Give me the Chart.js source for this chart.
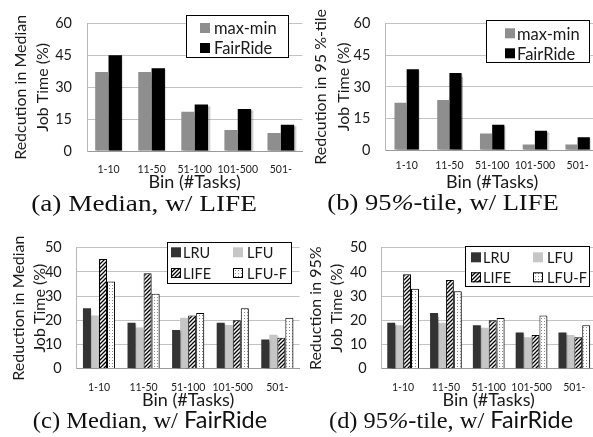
<!DOCTYPE html>
<html>
<head>
<meta charset="utf-8">
<script src="https://cdn.jsdelivr.net/npm/chart.js@4.4.1/dist/chart.umd.min.js"></script>
<style>
  html, body { margin: 0; padding: 0; background: #fff; overflow: hidden; }
  body { width: 593px; height: 437px; position: relative; }
  .panel { position: absolute; }
  .cap { position: absolute; font-family: "Liberation Serif", "Times New Roman", serif; font-size: 24px; color: #111;
         white-space: nowrap; transform: translate(-50%, -50%); line-height: 1; }
  .cap .sf { font-family: Lato, "Open Sans", sans-serif; font-size: 23px; }
</style>
</head>
<body>
<div class="panel" style="left:0;top:0;width:304px;height:193px"><canvas id="chartA"></canvas></div>
<div class="panel" style="left:300px;top:0;width:300px;height:193px"><canvas id="chartB"></canvas></div>
<div class="panel" style="left:0;top:224px;width:301px;height:187px"><canvas id="chartC"></canvas></div>
<div class="panel" style="left:300px;top:224px;width:298px;height:187px"><canvas id="chartD"></canvas></div>

<div class="cap" data-w="226" style="left:144px;top:203px">(a) Median, w/ LIFE</div>
<div class="cap" data-w="231" style="left:443px;top:202px">(b) 95<i>%</i>-tile, w/ LIFE</div>
<div class="cap" data-w="234" style="left:150px;top:420px">(c) Median, w/ <span class="sf">FairRide</span></div>
<div class="cap" data-w="244" style="left:451px;top:420px">(d) 95<i>%</i>-tile, w/ <span class="sf">FairRide</span></div>

<script>
// data
var bins = ["1-10", "11-50", "51-100", "101-500", "501-"];

var lifeTicks = [0, 15, 30, 45, 60];
var fairTicks = [0, 10, 20, 30, 40, 50];

// (a) median, w/ LIFE
var medMaxMin = [37.2, 37.2, 18.5, 9.9, 8.5];
var medFairRide = [45.1, 39.0, 21.9, 19.8, 12.4];

// (b) 95%-tile, w/ LIFE
var p95MaxMin = [22.5, 23.8, 7.8, 2.6, 2.6];
var p95FairRide = [38.4, 36.6, 12.0, 9.2, 6.1];

// (c) median, w/ FairRide
var medLRU = [25, 19, 16, 19, 12];
var medLFU = [22, 17, 21, 18, 14];
var medLIFE = [45.3, 39.4, 22, 20, 12.8];
var medLFUF = [36, 31, 23, 25, 21];

// (d) 95%-tile, w/ FairRide
var p95LRU = [19, 23, 18, 15, 15];
var p95LFU = [18, 19, 17, 13, 14];
var p95LIFE = [39, 36.7, 20, 14, 13];
var p95LFUF = [33, 32, 21, 22, 18];


var FONT = "Lato, 'Open Sans', sans-serif";
var TXT = "#1a1a1a";

function hatchPattern() {
    var c = document.createElement("canvas");
    c.width = 4; c.height = 4;
    var g = c.getContext("2d");
    g.fillStyle = "#fff";
    g.fillRect(0, 0, 4, 4);
    g.strokeStyle = "#000";
    g.lineWidth = 1.3;
    g.beginPath();
    g.moveTo(-1, 5); g.lineTo(5, -1);
    g.moveTo(-1, 1); g.lineTo(1, -1);
    g.moveTo(3, 5); g.lineTo(5, 3);
    g.stroke();
    return g.createPattern(c, "repeat");
}

function dotPattern() {
    var c = document.createElement("canvas");
    c.width = 3; c.height = 3;
    var g = c.getContext("2d");
    g.fillStyle = "#fff";
    g.fillRect(0, 0, 3, 3);
    g.fillStyle = "#8a8a8a";
    g.fillRect(1, 1, 1, 1);
    return g.createPattern(c, "repeat");
}

var HATCH = hatchPattern();
var DOTS = dotPattern();

// soft excel-like shadow behind the bars
var barShadow = {
    id: "barShadow",
    beforeDatasetsDraw: function (chart) {
        var ctx = chart.ctx;
        ctx.save();
        ctx.shadowColor = "rgba(0,0,0,0.3)";
        ctx.shadowOffsetX = 1.5;
        ctx.shadowOffsetY = 1;
        ctx.shadowBlur = 1.5;
    },
    afterDatasetsDraw: function (chart) {
        chart.ctx.restore();
    }
};

// legend drawn inside the plot, with a box
var boxLegend = {
    id: "boxLegend",
    afterDatasetsDraw: function (chart, args, o) {
        var ctx = chart.ctx;
        ctx.save();
        ctx.fillStyle = "#fff";
        ctx.fillRect(o.x, o.y, o.w, o.h);
        ctx.strokeStyle = "#000";
        ctx.lineWidth = 1;
        ctx.strokeRect(o.x + 0.5, o.y + 0.5, o.w, o.h);
        ctx.font = o.size + "px " + FONT;
        ctx.textBaseline = "middle";
        chart.data.datasets.forEach(function (ds, i) {
            var col = i % o.sx.length;
            var row = Math.floor(i / o.sx.length);
            var cy = o.rows[row];
            var s = o.sw;
            ctx.fillStyle = ds.backgroundColor;
            ctx.fillRect(o.sx[col], cy - s / 2, s, s);
            if (ds.borderWidth) {
                ctx.strokeStyle = "#000";
                ctx.strokeRect(o.sx[col] + 0.5, cy - s / 2 + 0.5, s - 1, s - 1);
            }
            ctx.fillStyle = TXT;
            ctx.fillText(ds.label, o.tx[col], cy + 1);
        });
        ctx.restore();
    }
};

function makeChart(id, datasets, ticks, yTitle, lay) {
    var el = document.getElementById(id);
    return new Chart(el, {
        type: "bar",
        data: { labels: bins, datasets: datasets },
        plugins: [barShadow, boxLegend],
        options: {
            responsive: true,
            maintainAspectRatio: false,
            animation: false,
            layout: { padding: { top: lay.top, right: 1, left: 0, bottom: 0 } },
            datasets: { bar: { categoryPercentage: lay.cat, barPercentage: 1 } },
            plugins: {
                legend: { display: false },
                tooltip: { enabled: false },
                boxLegend: lay.legend
            },
            scales: {
                x: {
                    afterFit: function (s) { s.height = lay.xh; },
                    grid: { display: false, drawTicks: false },
                    border: { display: true, color: "#9a9a9a", width: 1 },
                    ticks: { color: TXT, font: { family: FONT, size: 10.5 }, padding: lay.xpad, maxRotation: 0, autoSkip: false },
                    title: {
                        display: true, text: "Bin (#Tasks)", color: TXT,
                        font: { family: FONT, size: 18, lineHeight: 1.2 }, padding: { top: 0, bottom: 0 }
                    }
                },
                y: {
                    min: ticks[0],
                    max: ticks[ticks.length - 1],
                    afterFit: function (s) { s.width = lay.yw; },
                    grid: { color: "#c3c3c3", drawTicks: false },
                    border: { display: true, color: "#b8b8b8" },
                    ticks: { stepSize: ticks[1] - ticks[0], color: TXT, font: { family: FONT, size: 14.5 }, padding: 15 },
                    title: {
                        display: true, text: yTitle, color: TXT,
                        font: { family: FONT, size: 16, lineHeight: lay.tlh }, padding: { top: lay.tpad, bottom: 0 }
                    }
                }
            }
        }
    });
}

makeChart("chartA", [
    { label: "max-min", data: medMaxMin, backgroundColor: "#8e8e8e" },
    { label: "FairRide", data: medFairRide, backgroundColor: "#000" }
], lifeTicks, ["Redcution in Median", "Job Time (%)"], {
    top: 10, xh: 42, yw: 87, xpad: 12, cat: 0.62, tlh: 1.375, tpad: 9.8,
    legend: { x: 186, y: 15, w: 102, h: 42, sw: 10, sx: [200], tx: [214], rows: [28, 48], size: 16.5 }
});

makeChart("chartB", [
    { label: "max-min", data: p95MaxMin, backgroundColor: "#8e8e8e" },
    { label: "FairRide", data: p95FairRide, backgroundColor: "#000" }
], lifeTicks, ["Redcution in 95 %-tile", "Job Time (%)"], {
    top: 11.7, xh: 43, yw: 85.3, xpad: 9, cat: 0.57, tlh: 1.4375, tpad: 9.5,
    legend: { x: 186, y: 20, w: 103, h: 42, sw: 10, sx: [205], tx: [217], rows: [33.3, 53.3], size: 16.5 }
});

makeChart("chartC", [
    { label: "LRU", data: medLRU, backgroundColor: "#333333" },
    { label: "LFU", data: medLFU, backgroundColor: "#c6c6c6" },
    { label: "LIFE", data: medLIFE, backgroundColor: HATCH, borderColor: "#000", borderWidth: 1 },
    { label: "LFU-F", data: medLFUF, backgroundColor: DOTS, borderColor: "#000", borderWidth: 1 }
], fairTicks, ["Reduction in Median", "Job Time (%)"], {
    top: 10, xh: 42.4, yw: 76.7, xpad: 12.5, cat: 0.72, tlh: 1.3, tpad: 8.5,
    legend: { x: 167, y: 18, w: 124, h: 41, sw: 10, sx: [171, 233], tx: [183, 247], rows: [28.3, 49], size: 14.5 }
});

makeChart("chartD", [
    { label: "LRU", data: p95LRU, backgroundColor: "#333333" },
    { label: "LFU", data: p95LFU, backgroundColor: "#c6c6c6" },
    { label: "LIFE", data: p95LIFE, backgroundColor: HATCH, borderColor: "#000", borderWidth: 1 },
    { label: "LFU-F", data: p95LFUF, backgroundColor: DOTS, borderColor: "#000", borderWidth: 1 }
], fairTicks, ["Reduction in 95%", "Job Time (%)"], {
    top: 12.7, xh: 42.2, yw: 81.7, xpad: 12.5, cat: 0.74, tlh: 1.3, tpad: 5.2,
    legend: { x: 165, y: 22, w: 124, h: 40, sw: 10, sx: [171, 233], tx: [183, 247], rows: [33.3, 53.3], size: 14.5 }
});

// stretch each caption to the width it has in the figure
function fitCaptions() {
    var caps = document.querySelectorAll(".cap");
    for (var i = 0; i < caps.length; i++) {
        var el = caps[i];
        el.style.transform = "translate(-50%, -50%)";
        var k = Number(el.getAttribute("data-w")) / el.offsetWidth;
        el.style.transform = "translate(-50%, -50%) scaleX(" + k.toFixed(3) + ")";
    }
}
fitCaptions();
if (document.fonts && document.fonts.ready) {
    document.fonts.ready.then(fitCaptions);
}
</script>
</body>
</html>
